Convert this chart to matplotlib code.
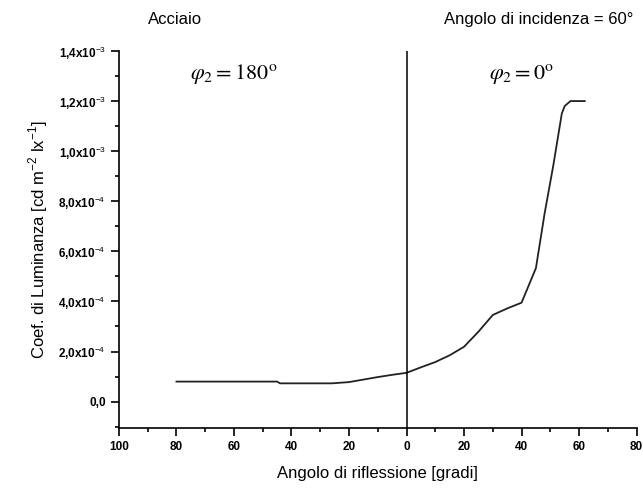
import numpy as np
import matplotlib
matplotlib.use('Agg')
import matplotlib.pyplot as plt
from matplotlib.ticker import MultipleLocator, FuncFormatter

# negative angles = phi2 = 180 side, positive = phi2 = 0 side
angolo = [-80, -45, -44, -26, -20, -15, -10, -5, 0, 5, 10, 15, 20, 25, 30,
          35, 40, 45, 48, 51, 54, 55, 57, 62]
luminanza = [0.80, 0.80, 0.73, 0.73, 0.78, 0.88, 0.98, 1.07, 1.15, 1.37, 1.58,
             1.85, 2.19, 2.79, 3.46, 3.72, 3.95, 5.33, 7.5, 9.4, 11.5, 11.8,
             12.0, 12.0]  # x 1e-4
y_ticks = [0, 2e-4, 4e-4, 6e-4, 8e-4, 1e-3, 1.2e-3, 1.4e-3]
y_labels = ['0,0', '2,0x10$^{-4}$', '4,0x10$^{-4}$', '6,0x10$^{-4}$',
            '8,0x10$^{-4}$', '1,0x10$^{-3}$', '1,2x10$^{-3}$', '1,4x10$^{-3}$']

plt.rcParams['font.family'] = ['Liberation Sans', 'DejaVu Sans']
plt.rcParams['mathtext.fontset'] = 'custom'
plt.rcParams['mathtext.rm'] = 'Liberation Sans'

fig = plt.figure(figsize=(6.43, 4.95), dpi=100)
ax = fig.add_axes([0.185, 0.135, 0.805, 0.762])

ax.plot(angolo, np.array(luminanza) * 1e-4, color='#222222', lw=1.3)
ax.axvline(0, color='black', lw=1.1)

ax.set_xlim(-100, 80)
ax.set_ylim(-1.06e-4, 1.4e-3)
ax.spines['top'].set_visible(False)
ax.spines['right'].set_visible(False)
for s in ['left', 'bottom']:
    ax.spines[s].set_linewidth(1.2)

ax.xaxis.set_major_locator(MultipleLocator(20))
ax.xaxis.set_minor_locator(MultipleLocator(10))
ax.xaxis.set_major_formatter(FuncFormatter(lambda v, p: '%d' % abs(round(v))))
ax.set_yticks(y_ticks)
ax.set_yticklabels(y_labels)
ax.yaxis.set_minor_locator(MultipleLocator(1e-4))
ax.tick_params(which='major', direction='out', length=6, width=1.2,
               labelsize=8.5)
ax.tick_params(which='minor', direction='out', length=3, width=1.2)
for lab in ax.get_xticklabels() + ax.get_yticklabels():
    lab.set_fontweight('bold')

ax.set_xlabel('Angolo di riflessione [gradi]', fontsize=12, labelpad=9)
ax.set_ylabel('Coef. di Luminanza [cd m$^{-2}$ lx$^{-1}$]', fontsize=12,
              labelpad=6)

fig.text(0.23, 0.96, 'Acciaio', fontsize=12, va='center')
fig.text(0.985, 0.96, 'Angolo di incidenza = 60°', fontsize=12,
         va='center', ha='right')
ax.text(-60, 1.31e-3, r'$\varphi_2 = 180^{\mathrm{o}}$', fontsize=16,
        ha='center', va='center', math_fontfamily='stix')
ax.text(40, 1.31e-3, r'$\varphi_2 = 0^{\mathrm{o}}$', fontsize=16,
        ha='center', va='center', math_fontfamily='stix')

fig.savefig('out.png', dpi=100)
